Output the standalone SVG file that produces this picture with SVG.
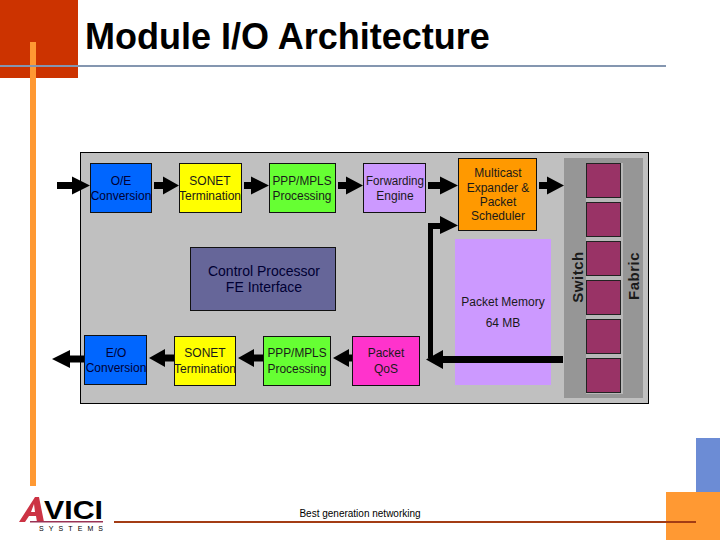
<svg xmlns="http://www.w3.org/2000/svg" width="720" height="540" viewBox="0 0 720 540">
<style>
text{font-family:"Liberation Sans",Arial,sans-serif;font-size:12px;text-anchor:middle;fill:#1a1a1a}
.dk{fill:#000033}
.cp{font-size:14px;fill:#000033}
.sf{font-size:15px;font-weight:bold;letter-spacing:.5px}
.b{stroke:#111;stroke-width:1}
.c{fill:#993366;stroke:#222;stroke-width:1}
.ar{fill:#000}
</style>
<rect width="78" height="78" fill="#cc3300"/>
<rect x="30" y="42" width="6" height="444" fill="#ff9933"/>
<rect x="0" y="65" width="666" height="2" fill="#8496b0"/>
<text x="85" y="49" style="font-size:36px;font-weight:bold;text-anchor:start;fill:#000">Module I/O Architecture</text>
<g id="panel"><rect x="80.500" y="152.500" width="568" height="251" fill="#c0c0c0" stroke="#000"/></g>
<g id="memory"><rect x="455" y="239" width="96" height="146" fill="#cc99ff"/><text x="503" y="306">Packet Memory</text><text x="503" y="327">64 MB</text></g>
<g id="fabric">
<rect x="564" y="158" width="79" height="240" fill="#969696"/>
<rect x="586" y="163" width="37" height="231" fill="#b8b8b8"/>
<rect class="c" x="586.500" y="163.500" width="34" height="34"/>
<rect class="c" x="586.500" y="202.500" width="34" height="34"/>
<rect class="c" x="586.500" y="241.500" width="34" height="34"/>
<rect class="c" x="586.500" y="280.500" width="34" height="34"/>
<rect class="c" x="586.500" y="319.500" width="34" height="34"/>
<rect class="c" x="586.500" y="358.500" width="34" height="34"/>
<text class="sf" transform="translate(583 277) rotate(-90)">Switch</text>
<text class="sf" transform="translate(639 276) rotate(-90)">Fabric</text>
</g>
<g id="oe"><rect class="b" x="90.500" y="163.500" width="61" height="49" fill="#0066ff"/><text class="dk" x="121" y="185">O/E</text><text class="dk" x="121" y="200">Conversion</text></g>
<g id="sonet1"><rect class="b" x="179.500" y="163.500" width="62" height="49" fill="#ffff00"/><text x="210" y="185">SONET</text><text x="210" y="200">Termination</text></g>
<g id="ppp1"><rect class="b" x="269.500" y="163.500" width="66" height="49" fill="#66ff33"/><text x="302" y="185" textLength="59" lengthAdjust="spacingAndGlyphs">PPP/MPLS</text><text x="302" y="200" textLength="59" lengthAdjust="spacingAndGlyphs">Processing</text></g>
<g id="fwd"><rect class="b" x="363.500" y="163.500" width="62" height="49" fill="#cc99ff"/><text x="395" y="185" textLength="58" lengthAdjust="spacingAndGlyphs">Forwarding</text><text x="395" y="200">Engine</text></g>
<g id="mcast"><rect class="b" x="458.500" y="158.500" width="78" height="72" fill="#ff9900"/><text x="498" y="177">Multicast</text><text x="498" y="192">Expander &amp;</text><text x="498" y="206">Packet</text><text x="498" y="220">Scheduler</text></g>
<g id="cp"><rect class="b" x="190.500" y="247.500" width="145" height="63" fill="#666699"/><text class="cp" x="264" y="276">Control Processor</text><text class="cp" x="264" y="292">FE Interface</text></g>
<g id="eo"><rect class="b" x="84.500" y="335.500" width="62" height="49" fill="#0066ff"/><text class="dk" x="116" y="357">E/O</text><text class="dk" x="116" y="372">Conversion</text></g>
<g id="sonet2"><rect class="b" x="174.500" y="336.500" width="61" height="49" fill="#ffff00"/><text x="205" y="357">SONET</text><text x="205" y="373">Termination</text></g>
<g id="ppp2"><rect class="b" x="263.500" y="336.500" width="67" height="49" fill="#66ff33"/><text x="297" y="357" textLength="59" lengthAdjust="spacingAndGlyphs">PPP/MPLS</text><text x="297" y="373" textLength="59" lengthAdjust="spacingAndGlyphs">Processing</text></g>
<g id="qos"><rect class="b" x="352.500" y="336.500" width="67" height="49" fill="#ff33cc"/><text x="386" y="357">Packet</text><text x="386" y="373">QoS</text></g>
<g id="connectors">
<path class="ar" d="M57 182H72V176.500L90 185.500 72 194.500V189H57Z"/>
<path class="ar" d="M154 182H163V176.500L179 185.500 163 194.500V189H154Z"/>
<path class="ar" d="M244 182H251V176.500L269 185.500 251 194.500V189H244Z"/>
<path class="ar" d="M338 182H346V176.500L363 185.500 346 194.500V189H338Z"/>
<path class="ar" d="M428 182H440V176.500L458 185.500 440 194.500V189H428Z"/>
<path class="ar" d="M539 182H547V176.500L564 185.500 547 194.500V189H539Z"/>
<path class="ar" d="M563 356V363H443V369L426 359.500 443 350V356Z"/>
<path class="ar" d="M428 358V223H440V216L458 225.500 440 234V229H433V358Z"/>
<path class="ar" d="M84 355.500H70V350L52 359 70 368V362.500H84Z"/>
<path class="ar" d="M174 354.500H165V349L149 358 165 367V361.500H174Z"/>
<path class="ar" d="M263 354.500H254V349L238 358 254 367V361.500H263Z"/>
<path class="ar" d="M352 354.500H349V349L333 358 349 367V361.500H352Z"/>
</g>
<rect x="696" y="438" width="24" height="55" fill="#6c8cd5"/>
<rect x="666" y="492" width="54" height="48" fill="#ff9933"/>
<rect x="114" y="521" width="582" height="2" fill="#a33c14"/>
<text x="360" y="517" style="font-size:10px;fill:#000">Best generation networking</text>
<g id="logo">
<text x="44" y="519" textLength="59" lengthAdjust="spacingAndGlyphs" style="font-size:25px;font-weight:bold;text-anchor:start;fill:#000">VICI</text>
<path fill-rule="evenodd" d="M19 522 35 497H39L44 522H37L36 516H29L25 522ZM31 512H35L34 504Z" fill="#cc3344"/>
<rect x="30" y="521" width="73" height="1.500" fill="#993355"/>
<text x="39" y="531" textLength="64" style="font-size:7px;text-anchor:start;fill:#000">SYSTEMS</text>
</g>
</svg>
